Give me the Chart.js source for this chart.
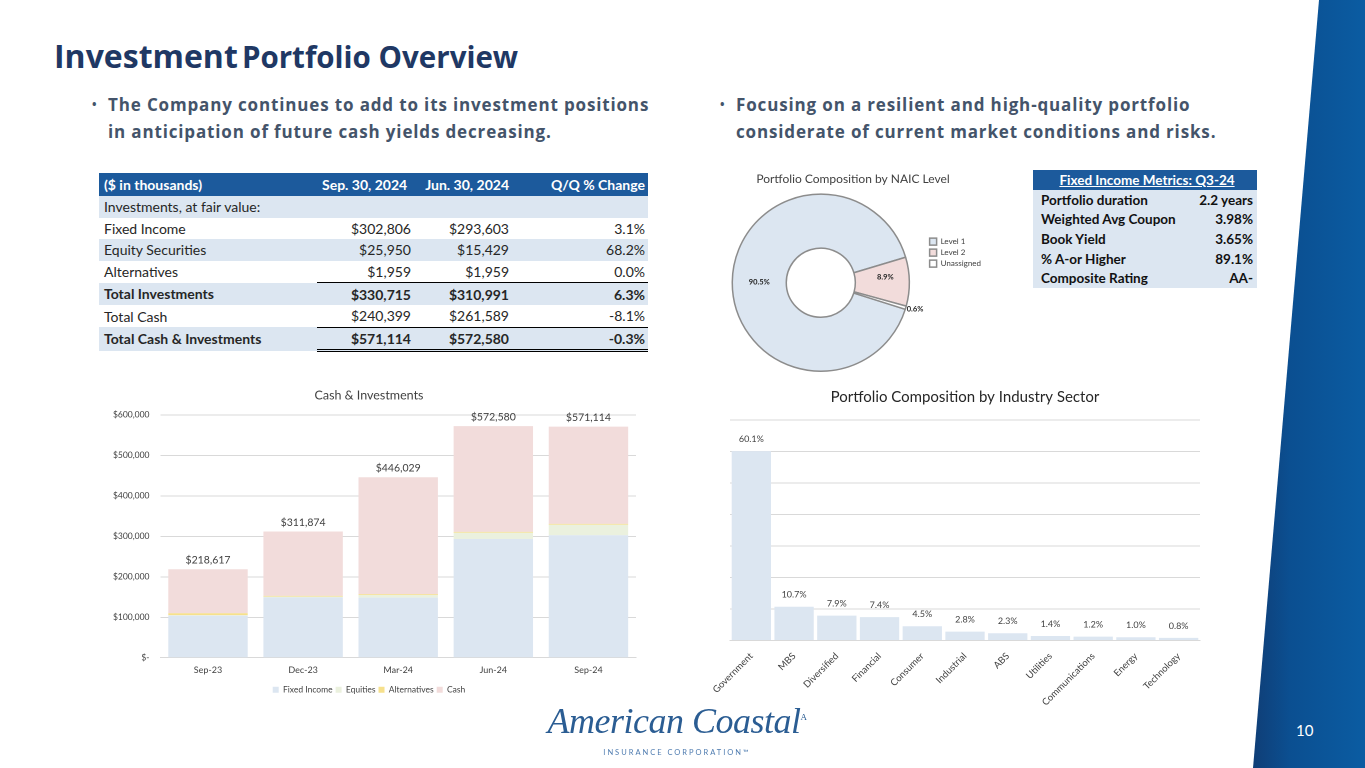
<!DOCTYPE html>
<html>
<head>
<meta charset="utf-8">
<script src="https://cdn.jsdelivr.net/npm/chart.js@4.4.1/dist/chart.umd.min.js"></script>
<style>
  body { margin: 0; background: #fff; }
  #slide { position: relative; width: 1365px; height: 768px; overflow: hidden; font-family: Lato, sans-serif; }
  .abs { position: absolute; }
  #band { left: 0; top: 0; width: 1365px; height: 768px;
    background: linear-gradient(to right, #0f3f78 1255px, #0b4f91 1290px, #0b5ca2 1365px);
    clip-path: polygon(1319px 0, 1365px 0, 1365px 768px, 1253px 768px); }
  #title { left: 54px; top: 34px; color: #1f3864; font-family: "Open Sans", sans-serif; font-weight: 700; white-space: nowrap; }
  .bullet { color: #44546a; font-family: "Open Sans", sans-serif; font-weight: 700; font-size: 17px; line-height: 27px; white-space: nowrap; letter-spacing: 0.85px; }
  .bullet span.dot { position: absolute; left: -16px; font-size: 12px; }
  table { border-collapse: collapse; font-size: 14px; color: #262626; table-layout: fixed; }
  #fin td { height: 21.6px; padding: 0 3px 0 5px; white-space: nowrap; }
  #fin td.n { text-align: right; }
  #fin tr.hd td { background: #1c5a9c; color: #fff; font-weight: 700; height: 23px; font-size: 14px; }
  #fin tr.hd td.sep { padding-right: 11px; }
  #fin tr.sh td { background: #dce6f1; }
  #fin tr.b td { font-weight: 700; }
  #fin tr.lt td.n { border-top: 1px solid #000; }
  #fin tr.dbl td.n { border-bottom: 3px double #000; }
  #met { left: 1033px; top: 170px; width: 224px; background: #dce6f1; font-size: 13.5px; font-weight: 700; color: #111; }
  #met td { height: 19.6px; padding: 0 4px 0 8px; white-space: nowrap; }
  #met td.n { text-align: right; }
  #met tr.hd td { background: #1c5a9c; color: #fff; text-align: center; text-decoration: underline; height: 20px; }
  #logo { left: 532px; top: 700px; width: 290px; text-align: center; color: #2b5d93; }
  #logo .script { font-family: "Liberation Serif", serif; font-style: italic; font-size: 36px; letter-spacing: -0.5px; }
  #logo .sub { font-size: 7.5px; letter-spacing: 2px; margin-top: 6px; color: #4f7cb0; }
  #pg { left: 1296px; top: 721px; color: #fff; font-size: 15px; }
</style>
</head>
<body>
<div id="slide">
  <div id="band" class="abs"></div>
  <div id="title" class="abs"><span style="font-size:32px">Investment</span> <span style="font-size:29.5px">Portfolio Overview</span></div>

  <div class="abs bullet" style="left:108px; top:91px"><span class="dot">•</span>The Company continues to add to its investment positions<br>in anticipation of future cash yields decreasing.</div>
  <div class="abs bullet" style="left:736px; top:91px"><span class="dot">•</span>Focusing on a resilient and high-quality portfolio<br>considerate of current market conditions and risks.</div>

  <table id="fin" class="abs" style="left:99px; top:173px; width:549px">
    <colgroup><col style="width:218px"><col style="width:97px"><col style="width:98px"><col style="width:136px"></colgroup>
  </table>
  <table id="met" class="abs">
    <colgroup><col style="width:150px"><col style="width:74px"></colgroup>
  </table>

  <canvas id="naic-chart" class="abs" style="left:715px; top:165px; width:284px; height:212px"></canvas>
  <canvas id="cash-chart" class="abs" style="left:95px; top:380px; width:560px; height:324px"></canvas>
  <canvas id="sector-chart" class="abs" style="left:700px; top:380px; width:515px; height:330px"></canvas>

  <div id="logo" class="abs"><div class="script">American Coastal<sup style="font-size:9px;font-style:normal">A</sup></div><div class="sub">INSURANCE CORPORATION™</div></div>
  <div id="pg" class="abs">10</div>
</div>

<script>
// ---- table data ----
const finHeader = ['($ in thousands)', 'Sep. 30, 2024', 'Jun. 30, 2024', 'Q/Q % Change'];
const finLabels = ['Investments, at fair value:', 'Fixed Income', 'Equity Securities', 'Alternatives', 'Total Investments', 'Total Cash', 'Total Cash & Investments'];
const finSep = ['', '$302,806', '$25,950', '$1,959', '$330,715', '$240,399', '$571,114'];
const finJun = ['', '$293,603', '$15,429', '$1,959', '$310,991', '$261,589', '$572,580'];
const finChange = ['', '3.1%', '68.2%', '0.0%', '6.3%', '-8.1%', '-0.3%'];
const finRowClass = ['sh', '', 'sh', '', 'sh b lt', '', 'sh b lt dbl'];

const metLabels = ['Portfolio duration', 'Weighted Avg Coupon', 'Book Yield', '% A-or Higher', 'Composite Rating'];
const metValues = ['2.2 years', '3.98%', '3.65%', '89.1%', 'AA-'];

// ---- chart data ----
const cashPeriods = ['Sep-23', 'Dec-23', 'Mar-24', 'Jun-24', 'Sep-24'];
const fixedIncome = [104000, 149000, 148500, 293603, 302806];
const equities = [1000, 2000, 6500, 15429, 25950];
const alternatives = [5000, 1959, 1959, 1959, 1959];
const cashHeld = [108617, 158915, 289070, 261589, 240399];
const cashTickLabels = ['$-', '$100,000', '$200,000', '$300,000', '$400,000', '$500,000', '$600,000'];

const naicLevels = ['Level 1', 'Level 2', 'Unassigned'];
const naicShares = [90.5, 8.9, 0.6];

const sectors = ['Government', 'MBS', 'Diversified', 'Financial', 'Consumer', 'Industrial', 'ABS', 'Utilities', 'Communications', 'Energy', 'Technology'];
const sectorShares = [60.1, 10.7, 7.9, 7.4, 4.5, 2.8, 2.3, 1.4, 1.2, 1.0, 0.8];

// build tables
const headClass = ['', 'n sep', 'n', 'n'];
const fin = document.getElementById('fin');
fin.insertAdjacentHTML('beforeend', '<tr class="hd">' + finHeader.map((h, i) => `<td class="${headClass[i]}">${h}</td>`).join('') + '</tr>' +
  finLabels.map((l, i) => `<tr class="${finRowClass[i]}"><td>${l}</td><td class="n">${finSep[i]}</td><td class="n">${finJun[i]}</td><td class="n">${finChange[i]}</td></tr>`).join(''));
const met = document.getElementById('met');
met.insertAdjacentHTML('beforeend', '<tr class="hd"><td colspan="2">Fixed Income Metrics: Q3-24</td></tr>' +
  metLabels.map((l, i) => `<tr><td>${l}</td><td class="n">${metValues[i]}</td></tr>`).join(''));

Chart.defaults.font.family = 'Lato, sans-serif';
Chart.defaults.color = '#595959';
Chart.defaults.animation = false;
Chart.defaults.responsive = false;
Chart.defaults.devicePixelRatio = 2;

function sizeCanvas(id) {
  const c = document.getElementById(id);
  c.width = parseFloat(c.style.width);
  c.height = parseFloat(c.style.height);
  return c.getContext('2d');
}

// draws value labels on top of bars / slices
const valueLabels = {
  id: 'valueLabels',
  afterDatasetsDraw(chart, args, opts) {
    const ctx = chart.ctx;
    ctx.save();
    ctx.fillStyle = opts.color || '#404040';
    ctx.font = `${opts.size || 10}px Lato, sans-serif`;
    ctx.textBaseline = 'middle';
    if (opts.mode === 'stackTotal') {
      const lastMeta = chart.getDatasetMeta(chart.data.datasets.length - 1);
      lastMeta.data.forEach((bar, i) => {
        const total = chart.data.datasets.reduce((s, ds) => s + ds.data[i], 0);
        ctx.textAlign = 'center';
        ctx.fillText('$' + total.toLocaleString('en-US'), bar.x, bar.y - 9);
      });
    } else if (opts.mode === 'bar') {
      chart.getDatasetMeta(0).data.forEach((bar, i) => {
        ctx.textAlign = 'center';
        ctx.fillText(chart.data.datasets[0].data[i].toFixed(1) + '%', bar.x, bar.y - 12);
      });
    } else if (opts.mode === 'arc') {
      ctx.font = `bold ${opts.size}px Lato, sans-serif`;
      chart.getDatasetMeta(0).data.forEach((arc, i) => {
        const v = chart.data.datasets[0].data[i].toFixed(1) + '%';
        if (i < 2) {
          const p = arc.tooltipPosition();
          ctx.textAlign = 'center';
          ctx.fillText(v, p.x + (i === 1 ? 3 : 0), p.y - (i === 1 ? 5 : 0));
        } else {
          const mid = (arc.startAngle + arc.endAngle) / 2;
          ctx.textAlign = 'left';
          ctx.fillText(v, arc.x + Math.cos(mid) * (arc.outerRadius + 1), arc.y + Math.sin(mid) * (arc.outerRadius + 4));
        }
      });
    }
    ctx.restore();
  }
};

// ---- NAIC donut ----
new Chart(sizeCanvas('naic-chart'), {
  type: 'doughnut',
  data: {
    labels: naicLevels,
    datasets: [{
      data: naicShares,
      backgroundColor: ['#dce6f1', '#f2dcdb', '#ffffff'],
      borderColor: '#8c8c8c',
      borderWidth: 1.5
    }]
  },
  options: {
    rotation: 107.5,
    cutout: '39%',
    layout: { padding: { top: 0, bottom: 5, left: 0, right: 8 } },
    plugins: {
      title: { display: true, text: 'Portfolio Composition by NAIC Level', color: '#404040', font: { size: 12, weight: 'normal' }, padding: { top: 7, bottom: 7 } },
      legend: {
        position: 'right',
        align: 'start',
        title: { display: true, text: ' ', font: { size: 8 }, padding: { top: 30, bottom: 30 } },
        labels: { boxWidth: 7, boxHeight: 7, font: { size: 8 }, color: '#404040', padding: 3 }
      },
      tooltip: { enabled: false },
      valueLabels: { mode: 'arc', size: 7.5, color: '#262626' }
    }
  },
  plugins: [valueLabels]
});

// ---- Cash & Investments stacked bars ----
new Chart(sizeCanvas('cash-chart'), {
  type: 'bar',
  data: {
    labels: cashPeriods,
    datasets: [
      { label: 'Fixed Income', data: fixedIncome, backgroundColor: '#dce6f1' },
      { label: 'Equities', data: equities, backgroundColor: '#ebf1de' },
      { label: 'Alternatives', data: alternatives, backgroundColor: '#f6e08c' },
      { label: 'Cash', data: cashHeld, backgroundColor: '#f2dcdb' }
    ]
  },
  options: {
    layout: { padding: { left: 7, right: 19, top: 0, bottom: 0 } },
    datasets: { bar: { categoryPercentage: 1, barPercentage: 0.835 } },
    scales: {
      x: {
        stacked: true,
        grid: { display: false, drawTicks: false, tickLength: 0 },
        border: { color: '#d9d9d9' },
        ticks: { font: { size: 9 }, color: '#404040', padding: 7 }
      },
      y: {
        stacked: true,
        min: 0,
        max: 600000,
        ticks: { stepSize: 100000, font: { size: 8.5 }, color: '#404040', padding: 11,
          callback: (v, i) => cashTickLabels[i] },
        grid: { color: '#d9d9d9', drawTicks: false },
        border: { display: false }
      }
    },
    plugins: {
      title: { display: true, text: 'Cash & Investments', color: '#404040', font: { size: 12.5, weight: 'normal' }, padding: { top: 8, bottom: 12 } },
      legend: { position: 'bottom', labels: { boxWidth: 6, boxHeight: 6, font: { size: 8.5 }, color: '#404040', padding: 3 } },
      tooltip: { enabled: false },
      valueLabels: { mode: 'stackTotal', size: 10.5, color: '#404040' }
    }
  },
  plugins: [valueLabels]
});

// ---- Portfolio by industry sector ----
new Chart(sizeCanvas('sector-chart'), {
  type: 'bar',
  data: {
    labels: sectors,
    datasets: [{ label: 'Share', data: sectorShares, backgroundColor: '#dce6f1' }]
  },
  options: {
    layout: { padding: { left: 30, right: 15, top: 0, bottom: 0 } },
    datasets: { bar: { categoryPercentage: 1, barPercentage: 0.92 } },
    scales: {
      x: {
        grid: { display: false },
        border: { color: '#d9d9d9' },
        ticks: { font: { size: 9.5 }, color: '#404040', minRotation: 45, maxRotation: 45, padding: 2 }
      },
      y: {
        min: 0,
        max: 70,
        ticks: { stepSize: 10, display: false },
        grid: { color: '#d9d9d9', drawTicks: false },
        border: { display: false }
      }
    },
    plugins: {
      title: { display: true, text: 'Portfolio Composition by Industry Sector', color: '#262626', font: { size: 15, weight: 'normal' }, padding: { top: 8, bottom: 14 } },
      legend: { display: false },
      tooltip: { enabled: false },
      valueLabels: { mode: 'bar', size: 9, color: '#404040' }
    }
  },
  plugins: [valueLabels]
});
</script>
</body>
</html>
